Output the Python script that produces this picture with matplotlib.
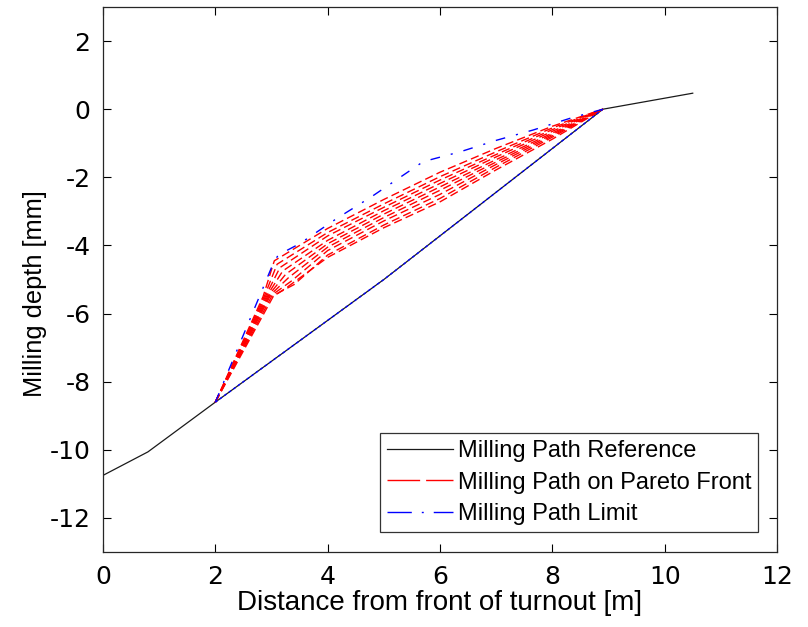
import matplotlib
matplotlib.use("Agg")
import matplotlib.pyplot as plt
from matplotlib.lines import Line2D

plt.rcParams['font.family'] = ['Liberation Sans', 'DejaVu Sans']
plt.rcParams['axes.unicode_minus'] = False

# Reference milling path (distance [m], depth [mm])
ref_x = [0.0, 0.8, 2.0, 3.5, 5.0, 6.6, 8.9, 10.5]
ref_y = [-10.75, -10.06, -8.6, -6.8, -5.0, -2.95, 0.0, 0.47]

# Milling path limit: upper envelope and lower envelope
lim_up_x = [2.0, 3.03, 3.12, 3.51, 4.16, 4.78, 5.70, 6.36, 7.01, 7.66, 8.31, 8.9]
lim_up_y = [-8.6, -4.53, -4.28, -3.94, -3.21, -2.57, -1.54, -1.25, -0.91, -0.61, -0.27, 0.0]
lim_lo_x = [2.0, 3.5, 5.0, 6.6, 8.9]
lim_lo_y = [-8.6, -6.8, -5.0, -2.95, 0.0]

# Milling paths on the Pareto front
pareto_x = [
    [2.0, 2.85, 3.05, 4.0, 5.0, 6.0, 7.0, 8.0, 8.9],
    [2.0, 2.87, 3.10, 4.0, 5.0, 6.0, 7.0, 8.0, 8.9],
    [2.0, 2.89, 3.15, 4.0, 5.0, 6.0, 7.0, 8.0, 8.9],
    [2.0, 2.91, 3.20, 4.0, 5.0, 6.0, 7.0, 8.0, 8.9],
    [2.0, 2.93, 3.25, 4.0, 5.0, 6.0, 7.0, 8.0, 8.9],
    [2.0, 2.95, 3.30, 4.0, 5.0, 6.0, 7.0, 8.0, 8.9],
    [2.0, 2.97, 3.35, 4.0, 5.0, 6.0, 7.0, 8.0, 8.9],
    [2.0, 3.00, 3.40, 4.0, 5.0, 6.0, 7.0, 8.0, 8.9],
    [2.0, 3.03, 3.30, 4.0, 5.0, 6.0, 7.0, 8.0, 8.9],
]
pareto_y = [
    [-8.6, -5.5, -4.45, -3.50, -2.65, -1.85, -1.15, -0.50, 0.0],
    [-8.6, -5.5, -4.55, -3.62, -2.78, -1.98, -1.25, -0.55, 0.0],
    [-8.6, -5.5, -4.65, -3.72, -2.88, -2.08, -1.33, -0.60, 0.0],
    [-8.6, -5.5, -4.75, -3.85, -2.98, -2.18, -1.40, -0.65, 0.0],
    [-8.6, -5.5, -4.85, -3.95, -3.08, -2.28, -1.48, -0.70, 0.0],
    [-8.6, -5.5, -4.95, -4.05, -3.18, -2.38, -1.55, -0.74, 0.0],
    [-8.6, -5.5, -5.05, -4.15, -3.28, -2.50, -1.62, -0.78, 0.0],
    [-8.6, -5.5, -5.15, -4.28, -3.40, -2.62, -1.70, -0.82, 0.0],
    [-8.6, -5.5, -5.20, -4.35, -3.48, -2.72, -1.78, -0.88, 0.0],
]

x_ticks = [0, 2, 4, 6, 8, 10, 12]
y_ticks = [-12, -10, -8, -6, -4, -2, 0, 2]
legend_labels = ['Milling Path Reference', 'Milling Path on Pareto Front',
                 'Milling Path Limit']

fig = plt.figure(figsize=(8.08, 6.27), dpi=100)
ax = fig.add_axes([0.1275, 0.1196, 0.8341, 0.8692])

ax.plot(ref_x, ref_y, color='#1a1a1a', lw=0.9, zorder=2)

for px, py in zip(pareto_x, pareto_y):
    ax.plot(px, py, color='red', lw=1.0, dashes=(6, 3), zorder=3)

ax.plot(lim_up_x, lim_up_y, color='blue', lw=1.0,
        dashes=(7, 8, 1.5, 8), zorder=4)
ax.plot(lim_lo_x, lim_lo_y, color='blue', lw=1.0, dashes=(2, 2), zorder=4)

ax.set_xlim(0, 12)
ax.set_ylim(-13, 3)
ax.set_xticks(x_ticks)
ax.set_yticks(y_ticks)
ax.tick_params(direction='in', top=True, right=True, length=6,
               width=0.8, pad=9)
for lab in ax.get_xticklabels() + ax.get_yticklabels():
    lab.set_family(['DejaVu Sans'])
    lab.set_fontsize(18)
for s in ax.spines.values():
    s.set_linewidth(0.9)
    s.set_color('#262626')

ax.set_xlabel('Distance from front of turnout [m]', fontsize=20, labelpad=1)
ax.set_ylabel('Milling depth [mm]', fontsize=18.3)
ax.yaxis.set_label_coords(-0.083, 0.475)

# Legend keys with longer dash patterns than the plotted paths
handles = [
    Line2D([], [], color='#1a1a1a', lw=0.9),
    Line2D([], [], color='red', lw=1.0, dashes=(23.5, 4.3)),
    Line2D([], [], color='blue', lw=1.0, dashes=(17.5, 7.2, 1.4, 7.2)),
]
leg = ax.legend(handles, legend_labels, loc='lower right',
                bbox_to_anchor=(0.9718, 0.0367), borderaxespad=0,
                fontsize=17, frameon=True, fancybox=False,
                edgecolor='black', handlelength=2.8, borderpad=0.28,
                labelspacing=0.41, handletextpad=0.22)
leg.get_frame().set_linewidth(0.9)

fig.savefig('out.png', dpi=100)
